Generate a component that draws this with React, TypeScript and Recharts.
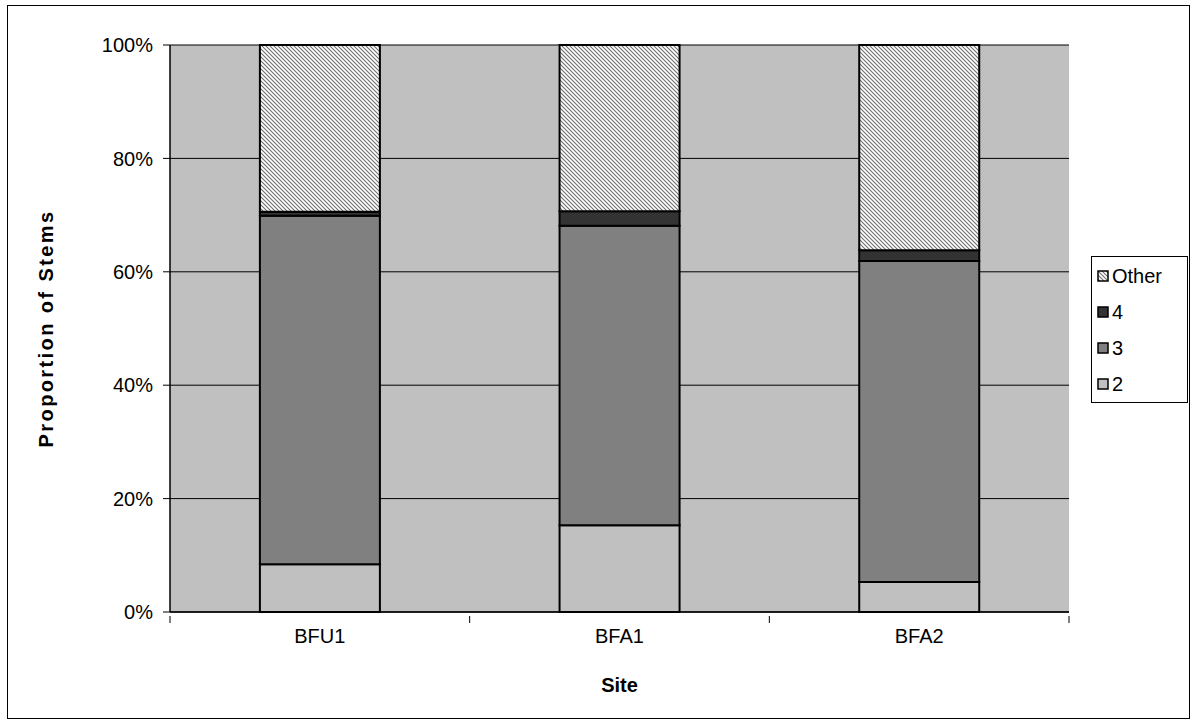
import React from "react";
import {
  BarChart,
  Bar,
  XAxis,
  YAxis,
  CartesianGrid,
  Legend,
  Label,
} from "recharts";

// Share of stems (%) in each stem-count class, per site
const sites = ["BFU1", "BFA1", "BFA2"];
const stems2 = [8.4, 15.3, 5.3];
const stems3 = [61.5, 52.8, 56.6];
const stems4 = [0.7, 2.6, 1.9];
const stemsOther = [29.4, 29.3, 36.2];
const yTicks = [0, 20, 40, 60, 80, 100];

const data = sites.map((site, i) => ({
  site,
  s2: stems2[i],
  s3: stems3[i],
  s4: stems4[i],
  other: stemsOther[i],
}));

const FONT = '"Liberation Sans", Arial, sans-serif';
const FS = 20;

const HatchPattern = ({ id }: { id: string }) => (
  <pattern id={id} patternUnits="userSpaceOnUse" width="4" height="4">
    <rect width="4" height="4" fill="#ffffff" />
    <path d="M-1,-1 L5,5 M-1,3 L1,5 M3,-1 L5,1" stroke="#6e6e6e" strokeWidth="1.1" />
  </pattern>
);

const legendItems = [
  { label: "Other", fill: "url(#hatchLegend)" },
  { label: "4", fill: "#333333" },
  { label: "3", fill: "#808080" },
  { label: "2", fill: "#C0C0C0" },
];

const LegendBox = () => (
  <div
    style={{
      border: "1px solid #000",
      background: "#fff",
      width: 95,
      height: 144,
      boxSizing: "content-box",
      fontFamily: FONT,
      fontSize: FS,
      paddingTop: 1,
      lineHeight: 1,
    }}
  >
    <svg width="0" height="0" style={{ position: "absolute" }}>
      <defs>
        <HatchPattern id="hatchLegend" />
      </defs>
    </svg>
    {legendItems.map((it) => (
      <div
        key={it.label}
        style={{ display: "flex", alignItems: "center", height: 36, paddingLeft: 5 }}
      >
        <svg width="12" height="12" style={{ marginRight: 3 }}>
          <rect x="1" y="1" width="10" height="10" fill={it.fill} stroke="#000" strokeWidth="1.5" />
        </svg>
        <span style={{ color: "#000" }}>{it.label}</span>
      </div>
    ))}
  </div>
);

const XTick = (props: any) => {
  const { x, y, payload, index } = props;
  const half = payload && payload.offset ? payload.offset : 150;
  return (
    <g>
      {index === 0 && (
        <line x1={x - half} x2={x - half} y1={y - 4} y2={y + 3} stroke="#000" />
      )}
      <line x1={x + half} x2={x + half} y1={y - 4} y2={y + 3} stroke="#000" />
      <text
        x={x}
        y={y + 23}
        textAnchor="middle"
        fontFamily={FONT}
        fontSize={FS}
        fill="#000"
      >
        {payload.value}
      </text>
    </g>
  );
};

export default function App() {
  return (
    <div style={{ position: "absolute", left: 0, top: 0, width: 1191, height: 725, background: "#fff" }}>
      <div
        style={{
          position: "absolute",
          left: 7,
          top: 5,
          width: 1183,
          height: 714,
          border: "1px solid #000",
          boxSizing: "border-box",
        }}
      />
      <div style={{ position: "absolute", left: 0, top: 0 }}>
        <BarChart
          width={1191}
          height={725}
          data={data}
          margin={{ top: 45, right: 122, left: 0, bottom: 0 }}
          barCategoryGap="30%"
        >
          <defs>
            <HatchPattern id="hatchBar" />
          </defs>
          <CartesianGrid
            vertical={false}
            horizontal={true}
            stroke="#000"
            strokeWidth={1}
            fill="#C0C0C0"
            fillOpacity={1}
          />
          <XAxis
            dataKey="site"
            height={113}
            axisLine={{ stroke: "#000", strokeWidth: 1.5 }}
            tickLine={false}
            tick={<XTick />}
            interval={0}
          >
            <Label
              content={(p: any) => {
                const vb = p.viewBox || {};
                return (
                  <text
                    x={vb.x + vb.width / 2}
                    y={692}
                    textAnchor="middle"
                    fontFamily={FONT}
                    fontSize={FS}
                    fontWeight="bold"
                    fill="#000"
                  >
                    Site
                  </text>
                );
              }}
            />
          </XAxis>
          <YAxis
            width={170}
            domain={[0, 100]}
            ticks={yTicks}
            interval={0}
            tickFormatter={(v: number) => `${v}%`}
            axisLine={{ stroke: "#000", strokeWidth: 1.5 }}
            tickLine={{ stroke: "#000" }}
            tickSize={7}
            tickMargin={10}
            tick={{ fontFamily: FONT, fontSize: FS, fill: "#000" }}
          >
            <Label
              content={(p: any) => {
                const vb = p.viewBox || {};
                const cy = vb.y + vb.height / 2;
                return (
                  <text
                    x={53}
                    y={cy}
                    transform={`rotate(-90, 53, ${cy})`}
                    textAnchor="middle"
                    fontFamily={FONT}
                    fontSize={FS}
                    fontWeight="bold"
                    letterSpacing={2.4}
                    fill="#000"
                  >
                    Proportion of Stems
                  </text>
                );
              }}
            />
          </YAxis>
          <Legend
            layout="vertical"
            align="center"
            verticalAlign="middle"
            content={<LegendBox />}
            wrapperStyle={{ position: "absolute", left: 1091, top: 256, width: 97 }}
          />
          <Bar dataKey="s2" name="2" stackId="a" fill="#C0C0C0" stroke="#000" strokeWidth={2} isAnimationActive={false} />
          <Bar dataKey="s3" name="3" stackId="a" fill="#808080" stroke="#000" strokeWidth={2} isAnimationActive={false} />
          <Bar dataKey="s4" name="4" stackId="a" fill="#333333" stroke="#000" strokeWidth={2} isAnimationActive={false} />
          <Bar dataKey="other" name="Other" stackId="a" fill="url(#hatchBar)" stroke="#000" strokeWidth={2} isAnimationActive={false} />
        </BarChart>
      </div>
    </div>
  );
}
